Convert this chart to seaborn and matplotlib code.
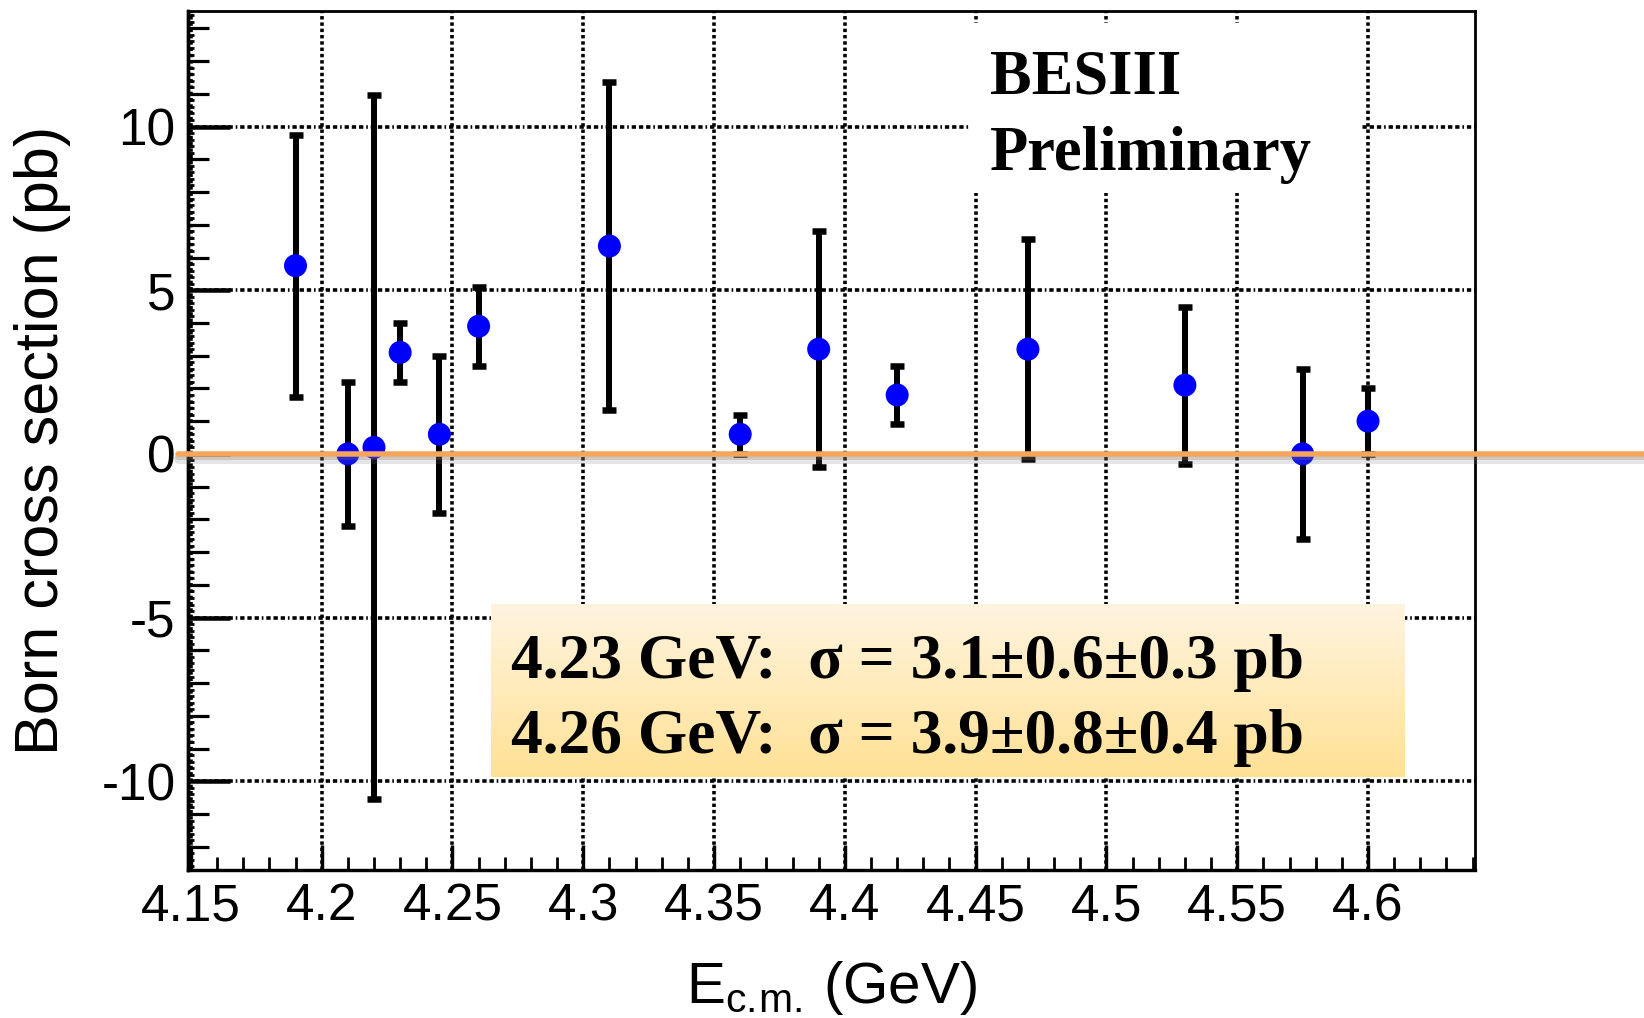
import numpy as np
import pandas as pd
import matplotlib
matplotlib.use("Agg")
import matplotlib.pyplot as plt
import matplotlib.patheffects as pe
from matplotlib.patches import Rectangle
from matplotlib.ticker import FixedLocator, MultipleLocator, NullLocator
import seaborn as sns

# Born cross section measurements vs centre-of-mass energy
energy = [4.19, 4.21, 4.22, 4.23, 4.245, 4.26, 4.31, 4.36, 4.39, 4.42, 4.47, 4.53, 4.575, 4.60]
xsec = [5.75, 0.0, 0.2, 3.1, 0.6, 3.9, 6.35, 0.6, 3.2, 1.8, 3.2, 2.1, 0.0, 1.0]
xsec_err = [4.0, 2.2, 10.75, 0.9, 2.4, 1.2, 5.0, 0.6, 3.6, 0.9, 3.35, 2.4, 2.6, 1.0]

x_ticks = [4.15, 4.20, 4.25, 4.30, 4.35, 4.40, 4.45, 4.50, 4.55, 4.60]
x_tick_labels = ["4.15", "4.2", "4.25", "4.3", "4.35", "4.4", "4.45", "4.5", "4.55", "4.6"]
y_ticks = [-10, -5, 0, 5, 10]
y_tick_labels = ["-10", "-5", "0", "5", "10"]

experiment_lines = ["BESIII", "Preliminary"]
summary_lines = ["4.23 GeV:  \u03c3 = 3.1\u00b10.6\u00b10.3 pb",
                 "4.26 GeV:  \u03c3 = 3.9\u00b10.8\u00b10.4 pb"]

df = pd.DataFrame({"E": energy, "sigma": xsec, "err": xsec_err})

sns.set_theme(style="white")
plt.rcParams["font.family"] = ["Liberation Sans", "DejaVu Sans"]
plt.rcParams["axes.unicode_minus"] = False
plt.rcParams["mathtext.fontset"] = "custom"
plt.rcParams["mathtext.rm"] = "Liberation Sans"

W, H, DPI = 1644, 1018, 100
px = 72.0 / DPI  # points per pixel

fig = plt.figure(figsize=(W / DPI, H / DPI), dpi=DPI, facecolor="white")
ax = fig.add_axes([188 / W, 1 - 870 / H, (1475 - 188) / W, (870 - 11) / H])
ax.set_facecolor("white")
ax.set_xlim(4.1489, 4.6409)
ax.set_ylim(-12.71, 13.53)

# frame
for side in ["left", "bottom"]:
    ax.spines[side].set_linewidth(3.4 * px)
    ax.spines[side].set_color("black")
for side in ["top", "right"]:
    ax.spines[side].set_linewidth(2.8 * px)
    ax.spines[side].set_color("black")

# ticks
ax.xaxis.set_major_locator(FixedLocator(x_ticks))
ax.set_xticklabels(x_tick_labels)
ax.xaxis.set_minor_locator(MultipleLocator(0.01))
ax.yaxis.set_major_locator(FixedLocator(y_ticks))
ax.set_yticklabels(y_tick_labels)
ax.yaxis.set_minor_locator(MultipleLocator(1))
ax.tick_params(axis="x", which="major", direction="in", length=25 * px, width=3.4 * px,
               labelsize=37, pad=9, colors="black", bottom=True, top=False)
ax.tick_params(axis="x", which="minor", direction="in", length=13 * px, width=2.8 * px,
               bottom=True, top=False, colors="black")
ax.tick_params(axis="y", which="major", direction="in", length=42 * px, width=4.5 * px,
               labelsize=37, pad=9, colors="black", left=True, right=False)
ax.tick_params(axis="y", which="minor", direction="in", length=21 * px, width=3.2 * px,
               left=True, right=False, colors="black")

fine = ax.secondary_yaxis("left")
fine.yaxis.set_major_locator(NullLocator())
fine.yaxis.set_minor_locator(MultipleLocator(0.2))
fine.tick_params(which="minor", direction="in", length=6 * px, width=2.8 * px, colors="black")
fine.spines["left"].set_linewidth(3.4 * px)

# dotted grid
ax.set_axisbelow(True)
ax.xaxis.grid(True, which="major", color="black", linewidth=3.6 * px, linestyle=(0, (0.95, 0.8)))
ax.yaxis.grid(True, which="major", color="black", linewidth=3.6 * px,
              linestyle=(0, (1.2, 0.8, 1.2, 0.8, 1.2, 0.8, 0.45, 0.8)))

# white panel behind the experiment label
ax.add_patch(Rectangle((970 / W, 1 - 193 / H), (1360 - 970) / W, (193 - 23) / H,
                       transform=fig.transFigure, facecolor="white", edgecolor="none", zorder=1))

# data with errors
ax.errorbar(df["E"], df["sigma"], yerr=df["err"], fmt="none", ecolor="black",
            elinewidth=6 * px, capsize=7 * px, capthick=6.5 * px, zorder=3)
sns.scatterplot(data=df, x="E", y="sigma", ax=ax, s=(23 * px) ** 2, color="#0000FF",
                edgecolor="none", linewidth=0, zorder=4, legend=False)

# zero reference line
ax.axhline(0, xmin=(178 - 188) / 1287, xmax=(1644 - 188) / 1287, color="#F6A55B",
           linewidth=5.5 * px, clip_on=False, zorder=6,
           path_effects=[pe.SimpleLineShadow(offset=(0, -3.5), shadow_color="0.45", alpha=0.18,
                                             linewidth=9 * px),
                         pe.SimpleLineShadow(offset=(0, -2), shadow_color="0.45", alpha=0.25,
                                             linewidth=6 * px),
                         pe.Normal()])

# axis labels
ax.set_xlabel("E$_{\\mathrm{c.\\!m.}}\\,$(GeV)", fontsize=42, color="black")
ax.xaxis.label.set_va("baseline")
ax.xaxis.set_label_coords(0.5, (870 - 1003) / 859)
ax.set_ylabel("Born cross section (pb)", fontsize=44, color="black")
ax.yaxis.set_label_coords((71 - 188) / 1287, 0.5)

# experiment label
serif = ["Liberation Serif", "DejaVu Serif"]
fig.text(990 / W, 1 - 93 / H, experiment_lines[0], fontsize=45, fontweight="bold",
         family=serif, va="baseline", ha="left", color="black", zorder=10)
fig.text(990 / W, 1 - 170 / H, experiment_lines[1], fontsize=45, fontweight="bold",
         family=serif, va="baseline", ha="left", color="black", zorder=10)

# summary box with vertical gradient
box_ax = fig.add_axes([491 / W, 1 - 777 / H, (1404 - 491) / W, (777 - 604) / H], zorder=2)
t = np.linspace(0, 1, 256)[:, None, None]
top_col = np.array([255, 244, 224]) / 255.0
bot_col = np.array([255, 225, 148]) / 255.0
grad = top_col[None, None, :] + (bot_col - top_col)[None, None, :] * t
box_ax.imshow(grad, aspect="auto", extent=[0, 1, 0, 1], origin="upper")
box_ax.set_axis_off()

for line, base in zip(summary_lines, [678, 753]):
    fig.text(511 / W, 1 - base / H, line, fontsize=45.7, fontweight="bold", family=serif,
             va="baseline", ha="left", color="black", zorder=10)

fig.savefig("out.png", dpi=DPI, facecolor="white")
